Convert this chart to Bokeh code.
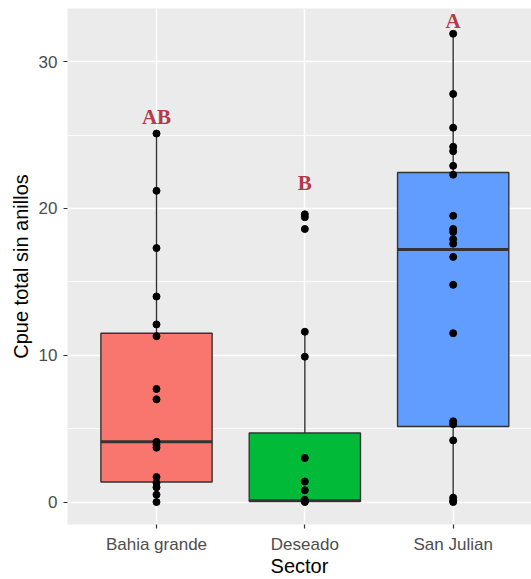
from bokeh.plotting import figure
from bokeh.models import Range1d, FixedTicker, ColumnDataSource
from bokeh.core.properties import value
from bokeh.embed import file_html
from bokeh.resources import INLINE

# ---------------- data ----------------
categories = ["Bahia grande", "Deseado", "San Julian"]
box_colors = ["#F8766D", "#00BA38", "#619CFF"]

q1 = [1.37, 0.05, 5.15]
median = [4.1, 0.08, 17.2]
q3 = [11.5, 4.7, 22.45]
whisker_low = [0.0, 0.0, 0.0]
whisker_high = [25.1, 11.6, 31.9]

bahia_vals = [25.1, 21.2, 17.3, 14.0, 12.1, 11.3, 7.7, 7.0, 4.1, 3.9, 3.7,
              1.7, 1.3, 1.0, 0.5, 0.0]
deseado_vals = [19.6, 19.4, 18.6, 11.6, 9.9, 3.0, 1.4, 0.8, 0.15, 0.05, 0.0]
sanjulian_vals = [31.9, 27.8, 25.5, 24.2, 23.9, 22.9, 22.3, 19.5, 18.6, 18.4,
                  17.9, 17.6, 16.7, 14.8, 11.5, 5.5, 5.3, 4.2, 0.3, 0.1, 0.0]
group_values = [bahia_vals, deseado_vals, sanjulian_vals]

letters = ["AB", "B", "A"]
letter_y = [26.2, 21.7, 32.8]

y_ticks = [0, 10, 20, 30]
y_minor = [5, 15, 25]

# ---------------- figure ----------------
xs = list(range(1, len(categories) + 1))

p = figure(width=531, height=579,
           x_range=Range1d(0.4, 3.528), y_range=Range1d(-1.53, 33.62),
           output_backend="svg", toolbar_location=None,
           min_border_left=67, min_border_right=0, min_border_top=8,
           min_border_bottom=54)
p.background_fill_color = "#EBEBEB"
p.border_fill_color = "white"
p.outline_line_color = None

# grid
p.xgrid.ticker = FixedTicker(ticks=xs)
p.xgrid.grid_line_color = "white"
p.xgrid.grid_line_width = 1.5
p.ygrid.ticker = FixedTicker(ticks=y_ticks, minor_ticks=y_minor)
p.ygrid.grid_line_color = "white"
p.ygrid.grid_line_width = 1.5
p.ygrid.minor_grid_line_color = "white"
p.ygrid.minor_grid_line_width = 0.8

# axes
for ax in (p.xaxis[0], p.yaxis[0]):
    ax.axis_line_color = None
    ax.major_tick_in = 0
    ax.major_tick_out = 4
    ax.major_tick_line_color = "#333333"
    ax.major_tick_line_width = 1.2
    ax.minor_tick_line_color = None
    ax.major_label_text_font = "Liberation Sans"
    ax.major_label_text_font_size = "17px"
    ax.major_label_text_color = "#4D4D4D"
    ax.axis_label_text_font = "Liberation Sans"
    ax.axis_label_text_font_style = "normal"
    ax.axis_label_text_color = "black"

p.xaxis.ticker = FixedTicker(ticks=xs)
p.xaxis.major_label_overrides = {x: c for x, c in zip(xs, categories)}
p.xaxis.axis_label = "Sector"
p.xaxis.axis_label_text_font_size = "20px"
p.xaxis.major_label_standoff = 6
p.xaxis.axis_label_standoff = -2

p.yaxis.ticker = FixedTicker(ticks=y_ticks)
p.yaxis.axis_label = "Cpue total sin anillos"
p.yaxis.axis_label_text_font_size = "20px"
p.yaxis.major_label_standoff = 6
p.yaxis.axis_label_standoff = 4

# whiskers
p.segment(x0=xs, y0=q3, x1=xs, y1=whisker_high, line_color="#333333", line_width=1.4)
p.segment(x0=xs, y0=whisker_low, x1=xs, y1=q1, line_color="#333333", line_width=1.4)

# boxes
box_src = ColumnDataSource(dict(x=xs, top=q3, bottom=q1, color=box_colors))
p.vbar(x="x", top="top", bottom="bottom", width=0.75, source=box_src,
       fill_color="color", line_color="#333333", line_width=1.4)

# medians
half = 0.375
p.segment(x0=[x - half for x in xs], y0=median, x1=[x + half for x in xs], y1=median,
          line_color="#333333", line_width=3)

# points
px, py = [], []
for x, vals in zip(xs, group_values):
    px += [x] * len(vals)
    py += vals
p.scatter(px, py, size=7, color="black")

# significance letters
p.text(x=xs, y=letter_y, text=letters, text_font=value("Liberation Serif"),
       text_font_style="bold", text_font_size="21px", text_color="#B33A4A",
       text_align="center", text_baseline="middle")

open("out.html", "w").write(file_html(p, INLINE))
